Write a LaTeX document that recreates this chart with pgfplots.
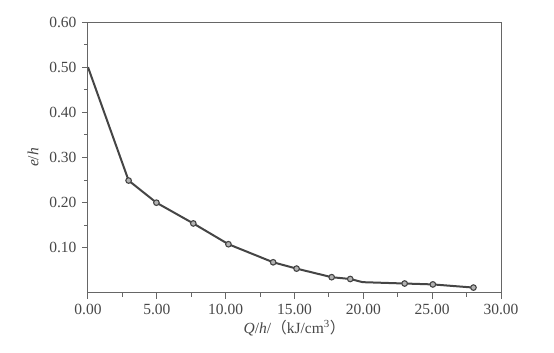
\documentclass[border=0pt]{standalone}
\usepackage{pgfplots}
\pgfplotsset{compat=1.18}
\usepackage{fontspec}
\setmainfont{Liberation Serif}
\newfontfamily\cjk{Noto Sans CJK SC}
\usetikzlibrary{calc}
\definecolor{axgray}{HTML}{666666}
\definecolor{lngray}{HTML}{454545}
\begin{document}
\begin{tikzpicture}
\begin{axis}[
  scale only axis,
  width=413pt, height=271pt,
  xmin=0, xmax=30, ymin=0, ymax=0.6,
  xtick={0,5,...,30}, ytick={0.1,0.2,...,0.6},
  minor tick num=1,
  tick align=outside,
  xtick pos=bottom, ytick pos=left,
  major tick length=6pt, minor tick length=4pt,
  axis line style={axgray, line width=1pt},
  every tick/.style={axgray, line width=1pt},
  every minor tick/.style={axgray, line width=1pt},
  /pgf/number format/assume math mode=true,
  xticklabel style={/pgf/number format/.cd, fixed, fixed zerofill, precision=2},
  yticklabel style={/pgf/number format/.cd, fixed, fixed zerofill, precision=2},
  tick label style={font=\fontsize{15.5}{18}\selectfont, text=black!72},
  label style={font=\fontsize{15.5}{18}\selectfont, text=black!72},
  xticklabel shift=2pt,
  yticklabel shift=2pt,
  xlabel={\textit{Q}/\textit{h}/{\cjk （}kJ/cm\textsuperscript{3}{\cjk ）}},
  ylabel={\textit{e}/\textit{h}},
  xlabel style={yshift=2pt},
  ylabel style={yshift=4pt},
]
\addplot[lngray, line width=2pt] coordinates {
  (0,0.50) (2.95,0.249) (4.97,0.200) (7.65,0.154) (10.2,0.108)
  (13.45,0.068) (15.15,0.054) (17.7,0.035) (19.05,0.031) (19.95,0.024)
  (23.0,0.021) (25.05,0.019) (28.0,0.012)
};
\addplot[only marks, mark=*, mark size=2.8pt, mark options={fill=gray!60, draw=lngray, line width=1.1pt}] coordinates {
  (2.95,0.249) (4.97,0.200) (7.65,0.154) (10.2,0.108)
  (13.45,0.068) (15.15,0.054) (17.7,0.035) (19.05,0.031)
  (23.0,0.021) (25.05,0.019) (28.0,0.012)
};
\end{axis}
\pgfresetboundingbox
\path ($(current axis.south west)+(-88pt,-60pt)$) rectangle ($(current axis.north east)+(53pt,22pt)$);
\end{tikzpicture}
\end{document}
